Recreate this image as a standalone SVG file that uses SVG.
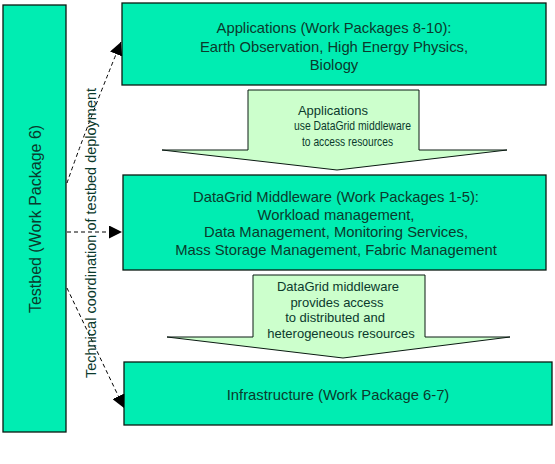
<svg xmlns="http://www.w3.org/2000/svg" width="555" height="464" viewBox="0 0 555 464">
<defs>
<style>
.box{fill:#00EDB2;stroke:#0a1a12;stroke-width:1.3}
.call{fill:#CCFFCC;stroke:#0a1a12;stroke-width:1}
.t{font-family:"Liberation Sans",Arial,sans-serif;fill:#0B3A2C;text-anchor:middle}
.bt{font-size:14.8px}
.ct{font-size:13px}
.dash{fill:none;stroke:#000;stroke-width:1;stroke-dasharray:4,3}
</style>
<marker id="ah" viewBox="0 0 12 12" refX="12" refY="6" markerWidth="13" markerHeight="13" markerUnits="userSpaceOnUse" orient="auto">
<path d="M0,0 L12,6 L0,12 Z" fill="#000"/>
</marker>
</defs>
<rect width="555" height="464" fill="#fff"/>
<g id="testbed">
<rect class="box" x="3" y="5" width="63" height="427"/>
<text class="t" style="font-size:16px" transform="translate(41,219) rotate(-90)">Testbed (Work Package 6)</text>
</g>
<g id="applications">
<rect class="box" x="122" y="3" width="424" height="82"/>
<text class="t bt" x="334" y="33">Applications (Work Packages 8-10):</text>
<text class="t bt" x="334" y="51.5">Earth Observation, High Energy Physics,</text>
<text class="t bt" x="334" y="70">Biology</text>
</g>
<g id="datagrid">
<rect class="box" x="123" y="175" width="423" height="95"/>
<text class="t bt" x="336" y="202">DataGrid Middleware (Work Packages 1-5):</text>
<text class="t bt" x="336" y="219.5">Workload management,</text>
<text class="t bt" x="336" y="237">Data Management, Monitoring Services,</text>
<text class="t bt" x="336" y="254.5">Mass Storage Management, Fabric Management</text>
</g>
<g id="infrastructure">
<rect class="box" x="124" y="362" width="428" height="63"/>
<text class="t bt" x="338" y="400">Infrastructure (Work Package 6-7)</text>
</g>
<g id="callout1">
<path class="call" d="M248,90 H419 V150 H507 L337,170 L162,150 H248 Z"/>
<text class="t ct" x="333" y="115">Applications</text>
<text class="t ct" x="352.5" y="130" textLength="117" lengthAdjust="spacingAndGlyphs">use DataGrid middleware</text>
<text class="t ct" x="347.5" y="145.5" textLength="91" lengthAdjust="spacingAndGlyphs">to access resources</text>
</g>
<g id="callout2">
<path class="call" d="M253,275 H425 V337 H510 L343,358 L167,337 H253 Z"/>
<text class="t ct" x="338" y="291">DataGrid middleware</text>
<text class="t ct" x="337" y="306.5">provides access</text>
<text class="t ct" x="335" y="322">to distributed and</text>
<text class="t ct" x="341" y="337.5">heterogeneous resources</text>
</g>
<g id="connectors">
<path class="dash" d="M67,183 Q86,128 121,42" marker-end="url(#ah)"/>
<path class="dash" d="M67,232 H122" marker-end="url(#ah)"/>
<path class="dash" d="M67,288 L124,408" marker-end="url(#ah)"/>
<text class="t" style="font-size:14.5px" transform="translate(96,233) rotate(-90)">Technical coordination of testbed deployment</text>
</g>
</svg>
